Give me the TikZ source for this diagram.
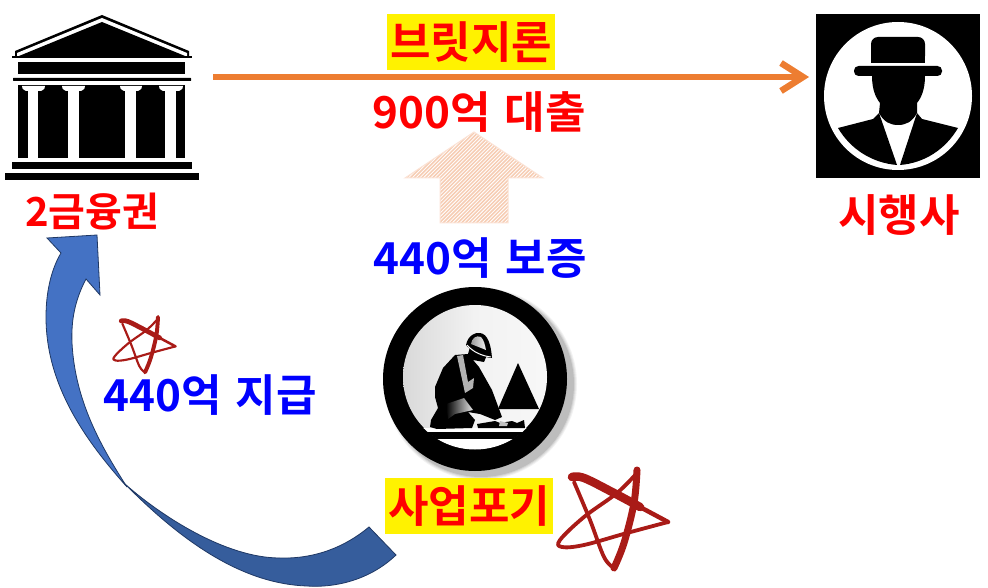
\documentclass[tikz,border=0pt]{standalone}
\usepackage{fontspec}
\setmainfont{Noto Sans CJK KR}[BoldFont={Noto Sans CJK KR Bold}]
\definecolor{orangeline}{HTML}{ED7D31}
\definecolor{bluetop}{HTML}{4472C4}
\definecolor{bluelow}{HTML}{365D9C}
\definecolor{blueedge}{HTML}{1F3864}
\definecolor{starred}{HTML}{A91B17}
\definecolor{hatch}{HTML}{F6CDB4}
\definecolor{edgehatch}{HTML}{FBE3D6}
\tikzset{
  lab/.style={font=\fontsize{44}{44}\selectfont\bfseries,inner sep=0pt,anchor=center},
  labred/.style={lab,text=red},
  labblue/.style={lab,text=blue},
  highlight/.style={fill=yellow,minimum width=168,minimum height=56,text=red,font=\fontsize{44}{44}\selectfont\bfseries,inner sep=0pt},
  blk/.style={fill=black,draw=none},
  wht/.style={fill=white,draw=none}
}
\newcommand{\penta}[3]{%
 \begin{scope}[shift={(#1,#2)},x=#3pt,y=-#3pt,starred,line cap=round,line join=round]
  \draw[line width=#3*7pt] plot[smooth,tension=.6] coordinates {(0,0) (-3,33) (-13,73) (-23,98)};
  \draw[line width=#3*3.8pt] plot[smooth,tension=.6] coordinates {(-23,98) (-33,87) (-47,50) (-63,12)};
  \draw[line width=#3*8.5pt] plot[smooth,tension=.6] coordinates {(-65,7) (-53,8) (-23,23) (3,37)};
  \draw[line width=#3*4.5pt] (3,37) -- (31,52);
  \draw[line width=#3*3.8pt] plot[smooth,tension=.6] coordinates {(31,52) (-10,63) (-53,75) (-75,77) (-77,70) (-53,47) (-20,23) (-1,4)};
 \end{scope}}
\begin{document}
\begin{tikzpicture}[x=1pt,y=-1pt]
\useasboundingbox (0,0) rectangle (988,588);
% bank
\fill[blk] (15,57) -- (15,51) -- (102,15) -- (189,51) -- (189,57) -- cycle;
\fill[wht] (17,56) -- (17,53) -- (102,18) -- (187,53) -- (187,56) -- cycle;
\fill[blk] (19,56) -- (102,22) -- (185,56) -- cycle;
\fill[blk] (12,56) rectangle (192,58);
\fill[blk] (18,62) rectangle (185,74);
\fill[blk,rounded corners=0.5pt] (13,78) rectangle (191,81);
\fill[blk] (18,85) rectangle (185,158);
\foreach \a/\b in {22/45,62/85,120/142,159/183}
  \fill[wht] (\a,86) -- (\b,86) .. controls (\b,90) and (\b-3,90) .. (\b-4,91) -- (\a+4,91) .. controls (\a+3,90) and (\a,90) .. (\a,86) -- cycle;
\foreach \a/\b in {28/38,68/79,125/136,165/176}
  \fill[wht] (\a,91) rectangle (\b,158);
\fill[blk] (12,162) rectangle (192,169);
\fill[blk] (5,173) rectangle (199,180);
\node[labred,font=\fontsize{40}{40}\selectfont\bfseries] (fin) at (92,212) {2금융권};
% developer
\node[fill=black,minimum size=164,inner sep=0pt] (dev) at (898,96) {};
\fill[wht] (dev.center) circle (74);
\fill[blk,rounded corners=7] (871,63) -- (871,37) -- (925,37) -- (925,63) -- cycle;
\fill[blk] (871,55) rectangle (925,63);
\fill[blk,rounded corners=4.5] (854,66) rectangle (942,76);
\fill[blk] (872,76) .. controls (872,90) and (876,98) .. (880,103) -- (879,113) .. controls (884,122) and (890,125) .. (898,125) .. controls (906,125) and (912,122) .. (917,113) -- (917,103) .. controls (921,98) and (925,90) .. (925,76) -- cycle;
\fill[blk] (838,128) -- (873,119) -- (879,113) -- (897,165) .. controls (873,163) and (851,150) .. (838,128) -- cycle;
\fill[blk] (958,128) -- (922,119) -- (917,113) -- (900,165) .. controls (924,163) and (945,150) .. (958,128) -- cycle;
\node[labred] (sh) at (899,215) {시행사};
% main arrow
\node[inner sep=0pt,minimum size=0pt] (ba) at (213,77) {};
\node[inner sep=0pt,minimum size=0pt] (ta) at (803,77) {};
\draw[orangeline,line width=6.5pt] (ba.center) -- (ta.center);
\draw[orangeline,line width=6.5pt,line join=miter] (781,63) -- (ta.center) -- (781,91);
\node[highlight] (bridge) at (471,42) {브릿지론};
\node[labred] (loan) at (479,112) {900억\hspace{4pt} 대출};
% hatched arrow
\begin{scope}
 \clip (474,132) -- (543,178) -- (508,178) -- (508,223) -- (440,223) -- (440,178) -- (405,178) -- cycle;
 \foreach \i in {0,...,75}
  \draw[hatch,line width=1.5pt] (290+\i*3.7,228) -- (290+\i*3.7+100,128);
\end{scope}
\draw[edgehatch,line width=1pt] (474,132) -- (543,178) -- (508,178) -- (508,223) -- (440,223) -- (440,178) -- (405,178) -- cycle;
\node[labblue] (guar) at (480,258) {440억\hspace{4pt} 보증};
% worker medallion
\foreach \r/\o in {96/0.05,95/0.06,94/0.08,93/0.10}
  \fill[black,opacity=\o] (481,384) circle (\r);
\fill[blk] (475,379) circle (92);
\shade[left color=gray!30,right color=white!94!gray,middle color=white!90!gray] (475,377) circle (72);
\begin{scope}
 \clip (475,377) circle (72.5);
 \fill[wht] (400,428) rectangle (550,432);
 \fill[blk] (400,432) rectangle (550,439);
 \fill[wht] (400,439) rectangle (550,450);
\end{scope}
\fill[blk] (518,363) -- (498,409) -- (539,409) -- cycle;
% figure
\fill[blk] (455,355) -- (443,368) -- (435,387) -- (435,397) -- (438,408) -- (431,420) -- (430,427) -- (437,429) -- (472,428) -- (475,420) -- (468,412) -- (480,414) -- (495,420) -- (502,417) -- (492,390) -- (479,367) -- (473,360) -- (484,362) -- (487,355) -- (470,347) -- (468,354) -- cycle;
% vest strap and apron highlights
\fill[gray!60] (457,356) -- (463,355) -- (468,382) -- (474,378) -- (473,388) -- (465,393) -- cycle;
\fill[blk] (477,385) -- (483,395) -- (498,417) -- (493,418) -- (476,398) -- cycle;
\shade[left color=black,right color=gray!20] (446,404) -- (464,398) -- (473,410) -- (455,414) -- (448,419) -- cycle;
% helmet
\fill[blk] (466,345) .. controls (468,335) and (476,332) .. (480,333) .. controls (488,334) and (491,345) .. (492,358) .. controls (485,358) and (472,352) .. (466,345) -- cycle;
\shade[left color=gray!80,right color=gray!10] (471,344) .. controls (472,338) and (476,335) .. (481,337) .. controls (484,340) and (485,345) .. (486,350) -- cycle;
\draw[white,line width=1pt] (467,345) .. controls (473,352) and (482,356) .. (491,357);
% tools
\fill[blk] (477,424) -- (495,421) -- (500,423) -- (512,421) -- (517,423) -- (524,420) -- (525,428) -- (478,428) -- cycle;
\fill[gray!50] (500,421) -- (508,423) -- (507,426) -- (499,426) -- cycle;
\node[highlight] (quit) at (469,506) {사업포기};
% curved arrow
\fill[bluelow,draw=blueedge,line width=0.8pt] (396,555) .. controls (370,580) and (335,588) .. (307,586) .. controls (245,584) and (185,545) .. (125,484) .. controls (160,515) and (225,558) .. (280,558) .. controls (315,559) and (345,547) .. (369,527) -- cycle;
\fill[bluetop,draw=blueedge,line width=0.8pt] (127,487) .. controls (85,440) and (46,385) .. (46,317) .. controls (46,290) and (52,268) .. (61,253) -- (47,238) -- (97,235) -- (100,295) -- (86,279) .. controls (75,300) and (71,320) .. (72,343) .. controls (75,400) and (100,445) .. (127,487) -- cycle;
\penta{637}{470}{1}
\penta{158}{317}{0.565}
\node[labblue] (pay) at (210,395) {440억\hspace{4pt} 지급};
\end{tikzpicture}
\end{document}
